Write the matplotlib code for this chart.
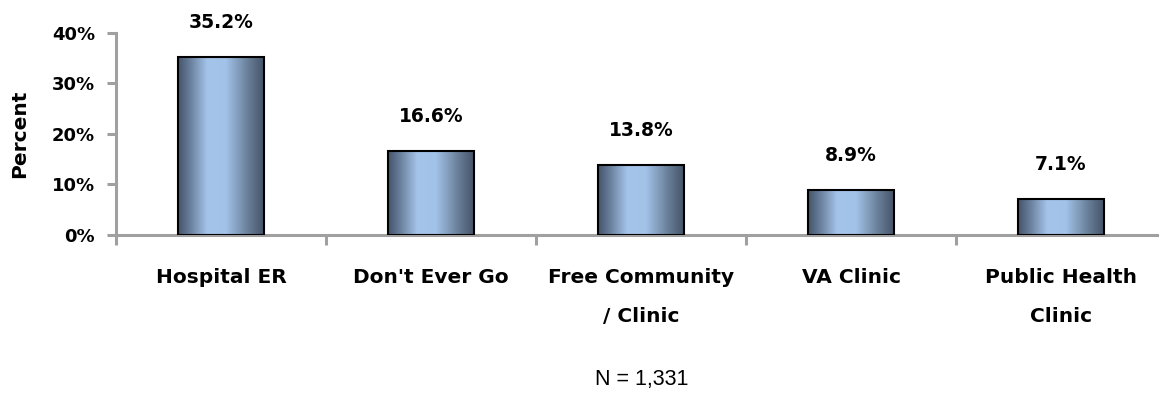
import numpy as np
import matplotlib.pyplot as plt
from matplotlib.colors import LinearSegmentedColormap

categories = ['Hospital ER', "Don't Ever Go", 'Free Community\n/ Clinic',
              'VA Clinic', 'Public Health\nClinic']
values = [35.2, 16.6, 13.8, 8.9, 7.1]
value_labels = ['35.2%', '16.6%', '13.8%', '8.9%', '7.1%']
yticks = [0, 10, 20, 30, 40]
ytick_labels = ['0%', '10%', '20%', '30%', '40%']
note = 'N = 1,331'

# cylinder-like shading across each bar
shade = LinearSegmentedColormap.from_list('shade', [
    (0.00, '#45546a'), (0.14, '#687f9c'), (0.34, '#a4c4ea'),
    (0.56, '#a2c2e8'), (0.82, '#687e98'), (1.00, '#45546a')])

fig = plt.figure(figsize=(11.59, 3.94), dpi=100)
ax = fig.add_axes([116/1159, 1-235/394, 1-116/1159, (235-33)/394])

x = np.arange(len(categories))
width = 0.405
bars = ax.bar(x, values, width=width, color='none', edgecolor='black',
              linewidth=1.5, zorder=3)
grad = np.linspace(0, 1, 256).reshape(1, -1)
for b in bars:
    x0, y0 = b.get_x(), b.get_y()
    im = ax.imshow(grad, cmap=shade, aspect='auto', zorder=2,
                   extent=(x0, x0 + b.get_width(), y0, y0 + b.get_height()))
    im.set_clip_path(b)

for xi, v, s in zip(x, values, value_labels):
    ax.annotate(s, xy=(xi, v), xytext=(0, 18), textcoords='offset points',
                ha='center', va='bottom', fontsize=13.5, fontweight='bold')

ax.set_xlim(-0.5, len(categories) - 0.5 - 7/210)
ax.set_ylim(0, 40)
ax.set_yticks(yticks, ytick_labels)
ax.set_xticks(x, categories)
ax.set_xticks(np.arange(len(categories)) - 0.5, minor=True)

for side in ('top', 'right'):
    ax.spines[side].set_visible(False)
for side in ('left', 'bottom'):
    ax.spines[side].set_color('#a0a0a0')
    ax.spines[side].set_linewidth(2.2)

ax.tick_params(axis='y', color='#a0a0a0', width=2.2, length=6.5, pad=8.5,
               labelsize=13)
ax.tick_params(axis='x', which='major', length=0, pad=24, labelsize=14.5)
ax.tick_params(axis='x', which='minor', color='#a0a0a0', width=2.2, length=7)
for lbl in ax.get_yticklabels() + ax.get_xticklabels():
    lbl.set_fontweight('bold')
for lbl in ax.get_xticklabels():
    lbl.set_linespacing(2.3)

ax.set_ylabel('Percent', fontsize=14.5, fontweight='bold')
ax.yaxis.set_label_coords(-0.083, 0.5)

fig.text(642/1159, 1-380/394, note, ha='center', va='center',
         fontsize=15.5, family='Liberation Sans')

plt.savefig('out.png', dpi=100)
